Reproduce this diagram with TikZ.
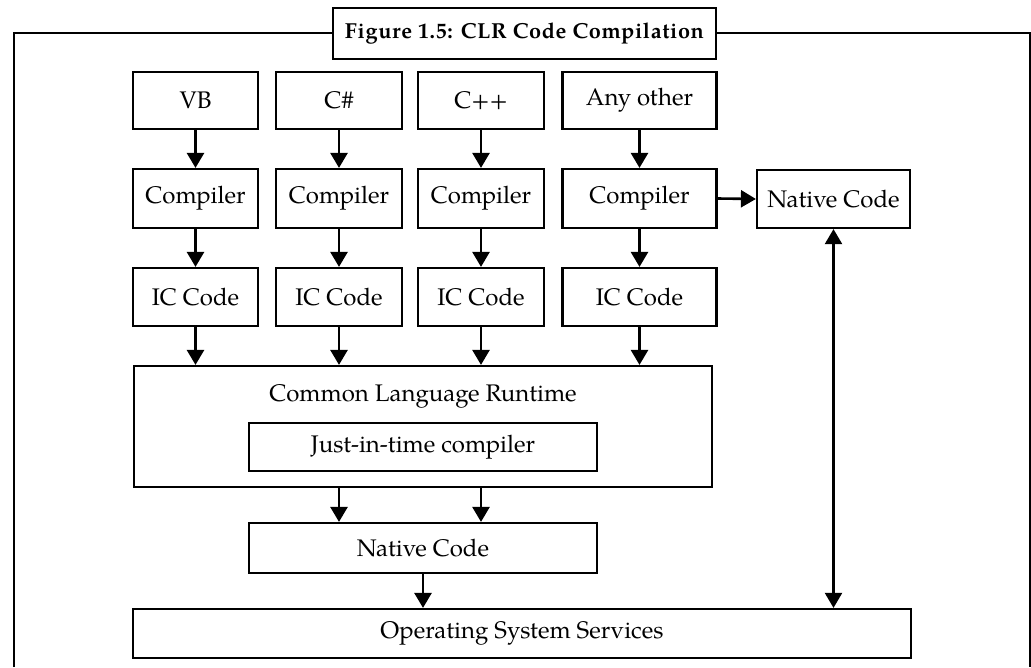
\documentclass[tikz,border=0pt]{standalone}
\usepackage{fontspec}
\setmainfont{texgyrepagella}[Extension=.otf,UprightFont=*-regular,BoldFont=*-bold]
\usetikzlibrary{arrows.meta}

\tikzset{
  box/.style={draw, line width=2.2pt, inner sep=0pt, fill=white,
    font=\fontsize{24}{28}\selectfont},
  link/.style={line width=2.6pt, -{Triangle[length=15pt,width=17pt]}},
  twoway/.style={line width=2.2pt, {Triangle[length=15pt,width=17pt]}-{Triangle[length=15pt,width=17pt]}},
  frame/.style={line width=2pt},
}

\begin{document}
\begin{tikzpicture}[x=1pt,y=-1pt]
\useasboundingbox (0,0) rectangle (1031,667);

% open outer frame
\draw[frame] (14,667) -- (14,33) -- (1030,33) -- (1030,667);
\node[box, line width=2pt, minimum width=383pt, minimum height=51pt,
      font=\fontsize{21.7}{26}\selectfont\bfseries\addfontfeature{LetterSpace=3}] (title) at (524.5,33.5)
      {Figure 1.5: CLR Code Compilation};

% source languages
\node[box, minimum width=125pt, minimum height=57pt] (vb)  at (195.5,100.5) {VB};
\node[box, minimum width=126pt, minimum height=57pt] (cs)  at (339,100.5) {C\#};
\node[box, minimum width=126pt, minimum height=57pt] (cpp) at (481,100.5) {C++};
\node[box, minimum width=154pt, minimum height=57pt] (any) at (639.5,100.5) {Any other};

% compilers
\node[box, minimum width=125pt, minimum height=59pt] (c1) at (195.5,198.5) {Compiler};
\node[box, minimum width=126pt, minimum height=59pt] (c2) at (339,198.5) {Compiler};
\node[box, minimum width=126pt, minimum height=59pt] (c3) at (481,198.5) {Compiler};
\node[box, minimum width=154pt, minimum height=59pt] (c4) at (639.5,198.5) {Compiler};
\node[box, minimum width=153pt, minimum height=58pt] (nat) at (833.5,199) {Native Code};

% intermediate code
\node[box, minimum width=125pt, minimum height=58pt] (i1) at (195.5,297) {IC Code};
\node[box, minimum width=126pt, minimum height=58pt] (i2) at (339,297) {IC Code};
\node[box, minimum width=126pt, minimum height=58pt] (i3) at (481,297) {IC Code};
\node[box, minimum width=154pt, minimum height=58pt] (i4) at (639.5,297) {IC Code};

% runtime
\node[box, minimum width=578pt, minimum height=121pt] (clr) at (423,426.5) {};
\node[font=\fontsize{24}{28}\selectfont] (clrlabel) at (423,396) {Common Language Runtime};
\node[box, minimum width=348pt, minimum height=48pt] (jit) at (423,447) {Just-in-time compiler};
\node[box, minimum width=348pt, minimum height=50pt] (nc) at (423,548) {Native Code};
\node[box, minimum width=778pt, minimum height=49pt] (os) at (522,633.5) {Operating System Services};

% connectors
\foreach \a/\b in {vb/c1, cs/c2, cpp/c3, any/c4, c1/i1, c2/i2, c3/i3, c4/i4}
  \draw[link] (\a.south) -- (\b.north);
\foreach \a in {i1,i2,i3,i4}
  \draw[link] (\a.south) -- (\a.south |- clr.north);
\draw[link] (c4.east) -- (nat.west);
\draw[link] (clr.south -| i2.south) -- (nc.north -| i2.south);
\draw[link] (clr.south -| i3.south) -- (nc.north -| i3.south);
\draw[link] (nc.south) -- (nc.south |- os.north);
\draw[twoway] (nat.south) -- (nat.south |- os.north);
\end{tikzpicture}
\end{document}
